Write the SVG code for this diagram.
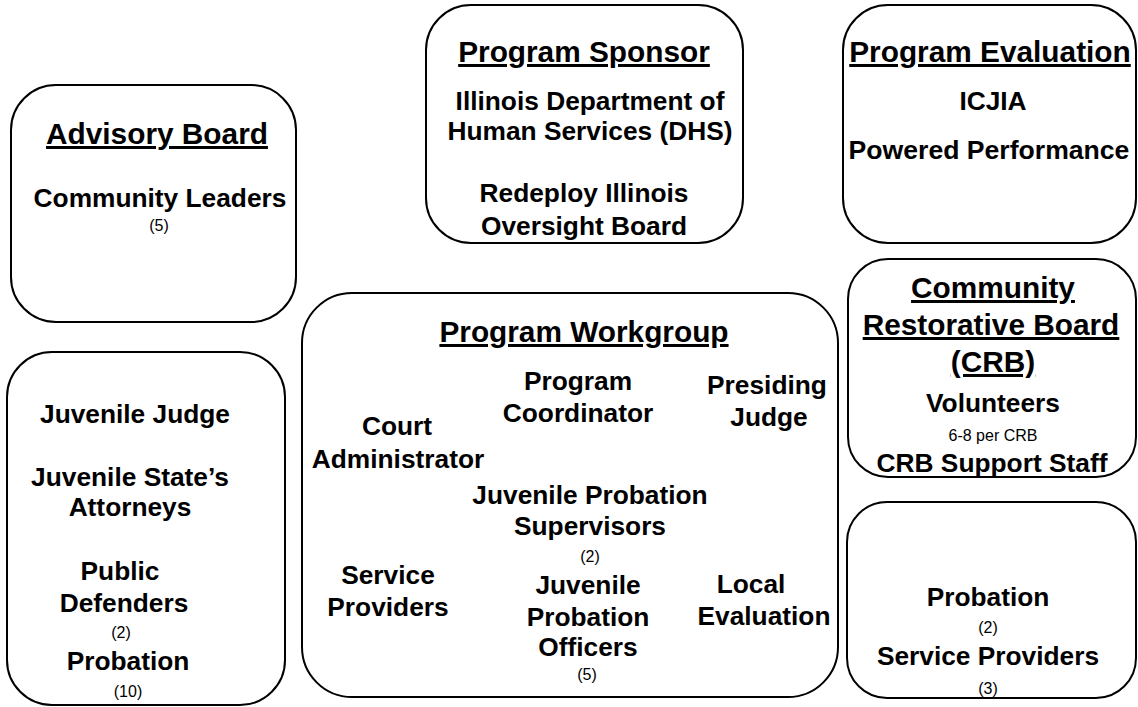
<svg xmlns="http://www.w3.org/2000/svg" width="1138" height="707" viewBox="0 0 1138 707">
  <style>
    .box { fill: #ffffff; stroke: #000000; stroke-width: 2; }
    text { font-family: "Liberation Sans", Arial, sans-serif; font-weight: bold; fill: #000000; text-anchor: middle; }
    .head { font-size: 29.8px; text-decoration: underline; }
    .body { font-size: 26.3px; }
    .wide { font-size: 26.6px; }
    .small { font-size: 16px; font-weight: normal; }
  </style>
  <rect width="1138" height="707" fill="#ffffff"/>

  <g id="advisory-board">
    <rect class="box" x="11" y="85" width="285" height="237" rx="45" ry="45"/>
    <text class="head" x="157" y="144">Advisory Board</text>
    <text class="body" x="160" y="207">Community Leaders</text>
    <text class="small" x="159" y="231">(5)</text>
  </g>

  <g id="program-sponsor">
    <rect class="box" x="426" y="5" width="317" height="238" rx="45" ry="45"/>
    <text class="head" x="584" y="62">Program Sponsor</text>
    <text class="body" x="590" y="110">Illinois Department of</text>
    <text class="body" x="590" y="140">Human Services (DHS)</text>
    <text class="body" x="584" y="202">Redeploy Illinois</text>
    <text class="body" x="584" y="235">Oversight Board</text>
  </g>

  <g id="program-evaluation">
    <rect class="box" x="843" y="5" width="293" height="238" rx="45" ry="45"/>
    <text class="head" x="990" y="62">Program Evaluation</text>
    <text class="body" x="993" y="110">ICJIA</text>
    <text class="wide" x="989" y="159">Powered Performance</text>
  </g>

  <g id="community-restorative-board">
    <rect class="box" x="848" y="259" width="288" height="218" rx="40" ry="40"/>
    <text class="head" x="993" y="298">Community</text>
    <text class="head" x="991" y="335">Restorative Board</text>
    <text class="head" x="993" y="372">(CRB)</text>
    <text class="body" x="993" y="412">Volunteers</text>
    <text class="small" x="993" y="441">6-8 per CRB</text>
    <text class="body" x="992" y="472">CRB Support Staff</text>
  </g>

  <g id="crb-members">
    <rect class="box" x="847" y="502" width="289" height="196" rx="40" ry="40"/>
    <text class="body" x="988" y="606">Probation</text>
    <text class="small" x="988" y="633">(2)</text>
    <text class="body" x="988" y="665">Service Providers</text>
    <text class="small" x="988" y="694">(3)</text>
  </g>

  <g id="court-partners">
    <rect class="box" x="7" y="352" width="278" height="353" rx="45" ry="45"/>
    <text class="body" x="135" y="423">Juvenile Judge</text>
    <text class="body" x="130" y="486">Juvenile State’s</text>
    <text class="body" x="130" y="516">Attorneys</text>
    <text class="body" x="120" y="580">Public</text>
    <text class="body" x="124" y="612">Defenders</text>
    <text class="small" x="121" y="638">(2)</text>
    <text class="body" x="128" y="670">Probation</text>
    <text class="small" x="128" y="697">(10)</text>
  </g>

  <g id="program-workgroup">
    <rect class="box" x="302" y="293" width="536" height="404" rx="50" ry="50"/>
    <text class="head" x="584" y="342">Program Workgroup</text>
    <text class="body" x="578" y="390">Program</text>
    <text class="body" x="578" y="422">Coordinator</text>
    <text class="body" x="767" y="394">Presiding</text>
    <text class="body" x="769" y="426">Judge</text>
    <text class="body" x="397" y="435">Court</text>
    <text class="body" x="398" y="468">Administrator</text>
    <text class="body" x="590" y="504">Juvenile Probation</text>
    <text class="body" x="590" y="535">Supervisors</text>
    <text class="small" x="590" y="562">(2)</text>
    <text class="body" x="388" y="584">Service</text>
    <text class="body" x="388" y="616">Providers</text>
    <text class="body" x="588" y="594">Juvenile</text>
    <text class="body" x="588" y="626">Probation</text>
    <text class="body" x="588" y="656">Officers</text>
    <text class="small" x="587" y="680">(5)</text>
    <text class="body" x="751" y="593">Local</text>
    <text class="body" x="764" y="625">Evaluation</text>
  </g>

  <g id="connectors"/>
</svg>
